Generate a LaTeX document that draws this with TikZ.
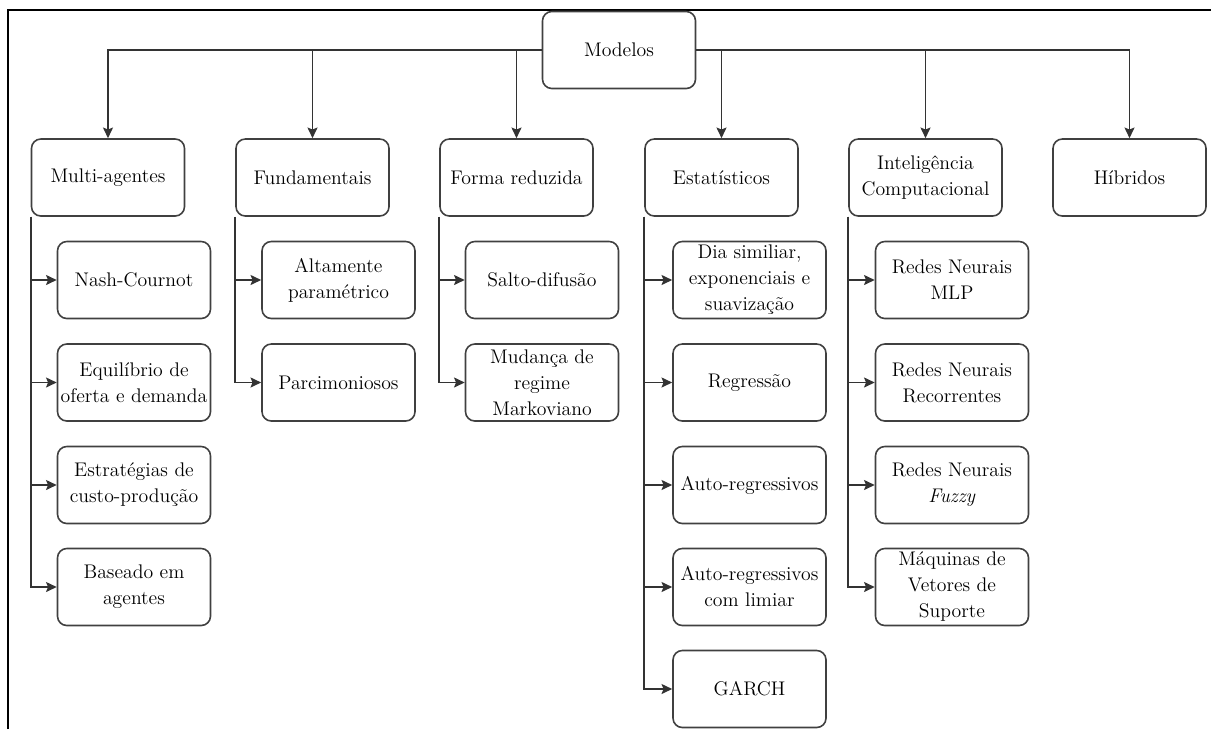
\documentclass[tikz,border=0pt]{standalone}
\usetikzlibrary{arrows.meta}
\tikzset{
	caixa/.style={draw=black!75, line width=1.2pt, rounded corners=7pt, minimum width=114.75pt, minimum height=57.75pt, inner sep=1pt, align=center, font=\rmfamily\fontsize{14.8}{19.5}\selectfont},
	seta/.style={draw=black!80, line width=1.2pt, -{Stealth[length=8pt,width=7.5pt,inset=1.5pt]}},
}
\begin{document}
\begin{tikzpicture}[x=0.75pt,y=0.75pt,yscale=-1,xscale=1]
		\useasboundingbox (0,0) rectangle (1211,729);

		% Moldura
		\draw [line width=1.5pt] (8,729) -- (8,10) -- (1211,10) ;

		% Raiz
		\node [caixa] (modelos) at (619,50) {Modelos};

		% Categorias
		\node [caixa] (multi) at (108,177.5) {Multi-agentes};
		\node [caixa] (fund) at (312.5,177.5) {Fundamentais};
		\node [caixa] (forma) at (516.5,177.5) {Forma reduzida};
		\node [caixa] (estat) at (721.5,177.5) {Estatísticos};
		\node [caixa] (intel) at (925.5,177.5) {Inteligência\\Computacional};
		\node [caixa] (hibr) at (1129.5,177.5) {Híbridos};

		% Multi-agentes
		\node [caixa] (nash) at (134,280) {Nash-Cournot};
		\node [caixa] (equil) at (134,382.5) {Equilíbrio de\\oferta e demanda};
		\node [caixa] (estrat) at (134,485) {Estratégias de\\custo-produção};
		\node [caixa] (agent) at (134,587) {Baseado em\\agentes};

		% Fundamentais
		\node [caixa] (altam) at (338.5,280) {Altamente\\paramétrico};
		\node [caixa] (parc) at (338.5,382.5) {Parcimoniosos};

		% Forma reduzida
		\node [caixa] (salto) at (542,280) {Salto-difusão};
		\node [caixa] (mudan) at (542,382.5) {Mudança de\\regime\\Markoviano};

		% Estatisticos
		\node [caixa] (dia) at (749.5,280) {Dia similiar,\\exponenciais e\\suavização};
		\node [caixa] (regr) at (749.5,382.5) {Regressão};
		\node [caixa] (autor) at (749.5,485) {Auto-regressivos};
		\node [caixa] (autol) at (749.5,587) {Auto-regressivos\\com limiar};
		\node [caixa] (garch) at (749.5,689) {GARCH};

		% Inteligencia computacional
		\node [caixa] (mlp) at (952,280) {Redes Neurais\\MLP};
		\node [caixa] (recor) at (952,382.5) {Redes Neurais\\Recorrentes};
		\node [caixa] (fuzzy) at (952,485) {Redes Neurais\\\textit{Fuzzy}};
		\node [caixa] (svm) at (952,587) {Máquinas de\\Vetores de\\Suporte};

		% Setas da raiz
		\draw [seta] (modelos.west) -| (multi.north) ;
		\draw [seta] (modelos.west) -| (fund.north) ;
		\draw [seta] (modelos.west) -| (forma.north) ;
		\draw [seta] (modelos.east) -| (estat.north) ;
		\draw [seta] (modelos.east) -| (intel.north) ;
		\draw [seta] (modelos.east) -| (hibr.north) ;

		% Setas das categorias
		\draw [seta] (multi.south west) |- (nash.west) ;
		\draw [seta] (multi.south west) |- (equil.west) ;
		\draw [seta] (multi.south west) |- (estrat.west) ;
		\draw [seta] (multi.south west) |- (agent.west) ;

		\draw [seta] (fund.south west) |- (altam.west) ;
		\draw [seta] (fund.south west) |- (parc.west) ;

		\draw [seta] (forma.south west) |- (salto.west) ;
		\draw [seta] (forma.south west) |- (mudan.west) ;

		\draw [seta] (estat.south west) |- (dia.west) ;
		\draw [seta] (estat.south west) |- (regr.west) ;
		\draw [seta] (estat.south west) |- (autor.west) ;
		\draw [seta] (estat.south west) |- (autol.west) ;
		\draw [seta] (estat.south west) |- (garch.west) ;

		\draw [seta] (intel.south west) |- (mlp.west) ;
		\draw [seta] (intel.south west) |- (recor.west) ;
		\draw [seta] (intel.south west) |- (fuzzy.west) ;
		\draw [seta] (intel.south west) |- (svm.west) ;
\end{tikzpicture}
\end{document}
